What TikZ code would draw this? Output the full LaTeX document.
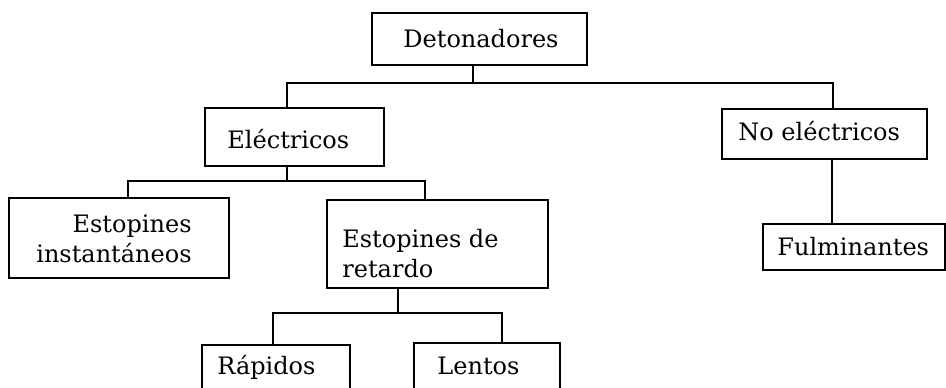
\documentclass[tikz,border=0pt]{standalone}
\usepackage{fontspec}
\setmainfont{DejaVu Serif}
\begin{document}
\begin{tikzpicture}[x=0.5pt,y=-0.5pt,
  boxnode/.style={draw=black,line width=1.2pt,rectangle,inner sep=0pt},
  txt/.style={inner sep=0pt,font=\fontsize{12}{14}\selectfont},
  link/.style={draw=black,line width=1pt}]
\useasboundingbox[fill=white] (0,0) rectangle (946,387);
\clip (0,0) rectangle (946,387);
% boxes
\node[boxnode,minimum width=107.5pt,minimum height=26pt] (det) at (479.5,39) {};
\node[boxnode,minimum width=89.5pt,minimum height=29pt] (ele) at (294.5,137) {};
\node[boxnode,minimum width=102.5pt,minimum height=25pt] (noe) at (824.5,134) {};
\node[boxnode,minimum width=110pt,minimum height=40pt] (ins) at (119,238) {};
\node[boxnode,minimum width=110.5pt,minimum height=44pt] (ret) at (437.5,244) {};
\node[boxnode,minimum width=91pt,minimum height=23pt] (ful) at (854,247) {};
\node[boxnode,minimum width=74pt,minimum height=30pt] (rap) at (276,375) {};
\node[boxnode,minimum width=73pt,minimum height=31pt] (len) at (487,374) {};
% texts
\node[txt,anchor=base west] (tdet) at (403,47) {Detonadores};
\node[txt,anchor=base west] (tele) at (227,148) {Eléctricos};
\node[txt,anchor=base west] (tnoe) at (738,140) {No eléctricos};
\node[txt,anchor=base east] (tins1) at (192,232) {Estopines};
\node[txt,anchor=base east] (tins2) at (192,262) {instantáneos};
\node[txt,anchor=base west] (tret1) at (342,247) {Estopines de};
\node[txt,anchor=base west] (tret2) at (342,277) {retardo};
\node[txt,anchor=base west] (tful) at (777,255) {Fulminantes};
\node[txt,anchor=base west] (trap) at (217,374) {Rápidos};
\node[txt,anchor=base west] (tlen) at (437,374) {Lentos};
% junction coordinates
\coordinate (j1) at (473,83);
\coordinate (e1) at (287,83);
\coordinate (n1) at (833,83);
\coordinate (j2) at (287,181);
\coordinate (i2) at (128,181);
\coordinate (r2) at (425,181);
\coordinate (j3) at (398,313);
\coordinate (a3) at (273,313);
\coordinate (l3) at (502,313);
\coordinate (f1) at (832,0);
% connectors
\draw[link] (det.south -| j1) -- (j1);
\draw[link] (ele.north -| e1) -- (e1) -- (n1) -- (noe.north -| n1);
\draw[link] (ele.south -| j2) -- (j2);
\draw[link] (ins.north -| i2) -- (i2) -- (r2) -- (ret.north -| r2);
\draw[link] (noe.south -| f1) -- (ful.north -| f1);
\draw[link] (ret.south -| j3) -- (j3);
\draw[link] (rap.north -| a3) -- (a3) -- (l3) -- (len.north -| l3);
\end{tikzpicture}
\end{document}
